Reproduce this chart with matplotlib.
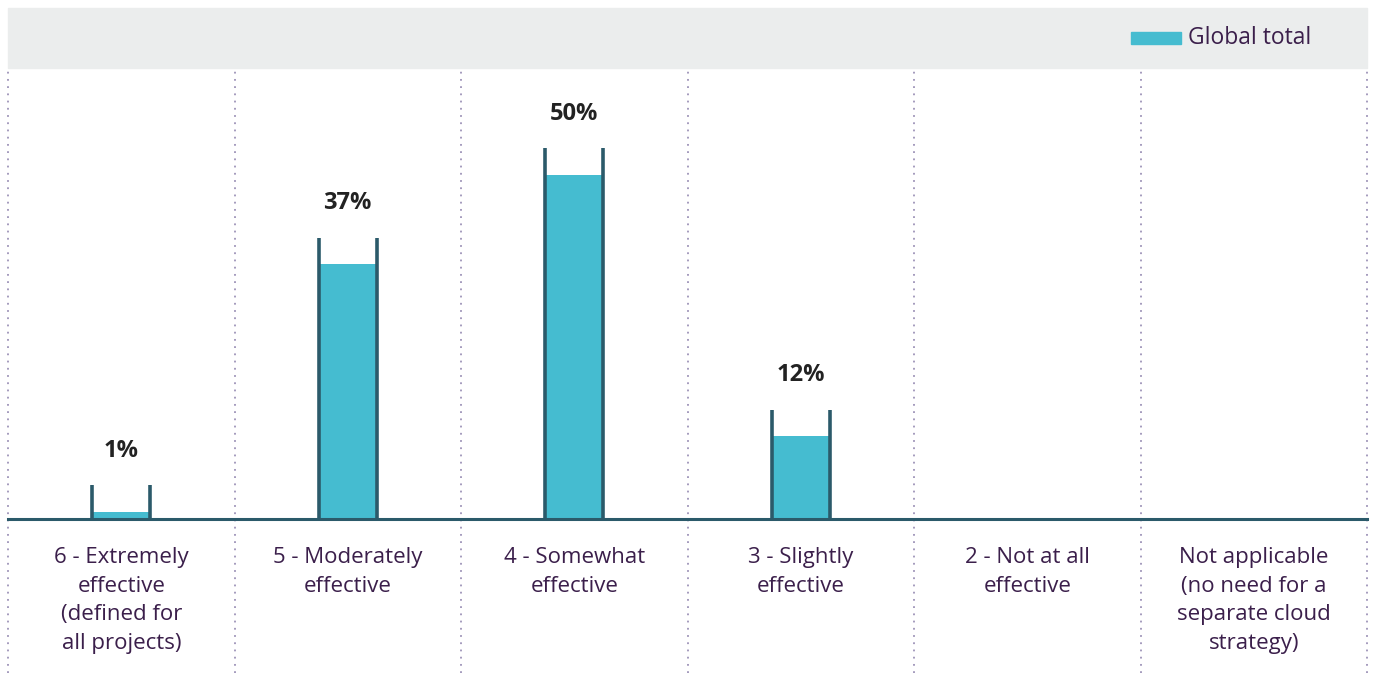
import matplotlib.pyplot as plt
import matplotlib.transforms as mtransforms
from matplotlib.patches import Rectangle

# Data
categories = [
    "6 - Extremely\neffective\n(defined for\nall projects)",
    "5 - Moderately\neffective",
    "4 - Somewhat\neffective",
    "3 - Slightly\neffective",
    "2 - Not at all\neffective",
    "Not applicable\n(no need for a\nseparate cloud\nstrategy)",
]
values = [1, 37, 50, 12, None, None]
series_name = "Global total"

# Styles
bar_color = "#45bcd0"
edge_color = "#2b5a6a"
grid_color = "#9d93b8"
label_color = "#3b1f4b"
value_color = "#222222"
header_color = "#ebeded"

plt.rcParams['font.family'] = ['Open Sans', 'DejaVu Sans']

fig = plt.figure(figsize=(13.75, 6.73), dpi=100)
W, H = 1375, 673

# header band
fig.patches.append(Rectangle((8 / W, 1 - 68 / H), 1359 / W, 60 / H,
                             transform=fig.transFigure, color=header_color, zorder=0))

ax = fig.add_axes([8 / W, (H - 519) / H, 1359 / W, 451 / H])
ax.set_xlim(-0.5, len(categories) - 0.5)
ax.set_ylim(0, 65.55)
ax.axis('off')

bar_w = 0.256
bracket_extra = 3.9

for i, v in enumerate(values):
    if v is None:
        continue
    ax.bar(i, v, width=bar_w, color=bar_color, zorder=2)
    top = v + bracket_extra
    for dx in (-bar_w / 2, bar_w / 2):
        ax.plot([i + dx, i + dx], [0, top], color=edge_color, lw=2.6,
                solid_capstyle='butt', zorder=3)
    ax.text(i, v + 8.9, f"{v}%", ha='center', va='center', fontsize=17,
            fontweight='bold', color=value_color)

# dotted separators, extend under the axis into the label area
trans = mtransforms.blended_transform_factory(ax.transData, ax.transAxes)
for b in range(len(categories) + 1):
    ax.plot([b - 0.5, b - 0.5], [-154 / 451, 1], transform=trans, color=grid_color,
            lw=1.3, linestyle=(0, (1, 3)), clip_on=False, zorder=1)

# baseline
ax.axhline(0, color=edge_color, lw=2.2, zorder=4, clip_on=False)

# category labels
for i, lab in enumerate(categories):
    ax.text(i, -28 / 451, lab, transform=trans, ha='center', va='top',
            fontsize=16, color=label_color, linespacing=1.47)

# legend in header
fig.patches.append(Rectangle((1131 / W, 1 - 44 / H), 50 / W, 12 / H,
                             transform=fig.transFigure, color=bar_color, zorder=1))
fig.text(1188 / W, 1 - 38 / H, series_name, ha='left', va='center',
         fontsize=16.5, color=label_color)

fig.savefig("out.png", dpi=100)
